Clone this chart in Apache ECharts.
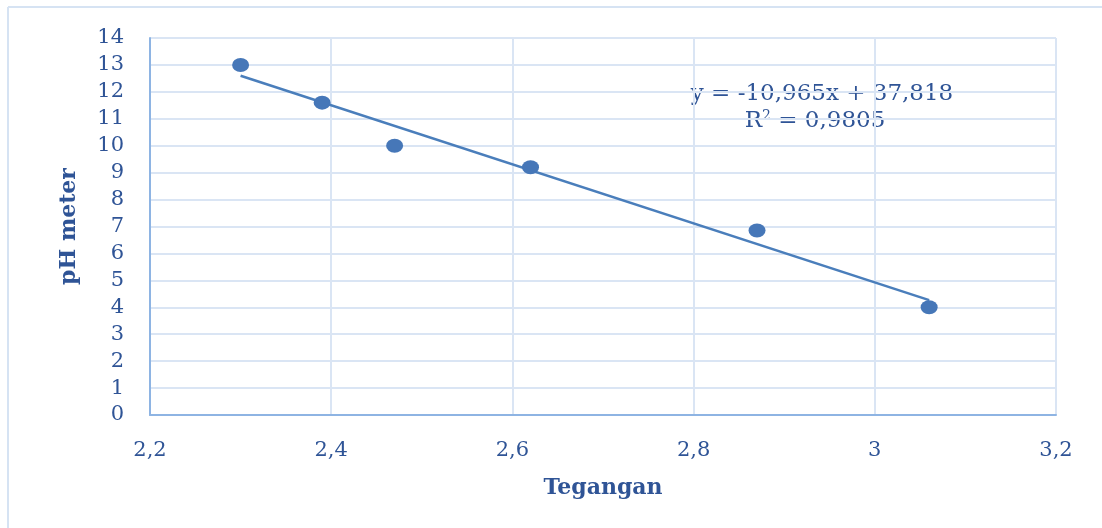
<!DOCTYPE html>
<html>
<head>
<meta charset="utf-8">
<script src="https://cdn.jsdelivr.net/npm/echarts@6/dist/echarts.min.js"></script>
<style>
html,body{margin:0;padding:0;background:#fff;}
#c{width:1102px;height:528px;}
</style>
</head>
<body>
<div id="c"></div>
<script>
const tegangan = [2.30, 2.39, 2.47, 2.62, 2.87, 3.06];
const phMeter = [13.0, 11.6, 10.0, 9.2, 6.85, 4.0];
const trendSlope = -10.965;
const trendIntercept = 37.818;
const trendR2 = '0,9805';
const xTicks = [2.2, 2.4, 2.6, 2.8, 3.0, 3.2];

const points = tegangan.map((x, i) => [x, phMeter[i]]);
const xMinD = Math.min(...tegangan), xMaxD = Math.max(...tegangan);
const trend = [[xMinD, trendSlope * xMinD + trendIntercept], [xMaxD, trendSlope * xMaxD + trendIntercept]];
const fmt = v => String(+v.toFixed(3)).replace('.', ',');

const textColor = '#2f5496';
const font = '"DejaVu Serif", serif';
const chart = echarts.init(document.getElementById('c'));
chart.setOption({
  animation: false,
  backgroundColor: '#fff',
  grid: {left: 150, right: 46, top: 38, bottom: 113},
  xAxis: {
    type: 'value', min: 2.2, max: 3.2, interval: 0.2,
    axisLine: {show: true, lineStyle: {color: '#8eb4e3', width: 2}},
    axisTick: {show: false},
    splitLine: {show: true, lineStyle: {color: '#dae5f4', width: 2}},
    axisLabel: {color: textColor, fontFamily: font, fontSize: 21, margin: 25, formatter: v => fmt(v)},
    name: 'Tegangan', nameLocation: 'middle', nameGap: 62,
    nameTextStyle: {color: textColor, fontFamily: font, fontSize: 22, fontWeight: 'bold'}
  },
  yAxis: {
    type: 'value', min: 0, max: 14, interval: 1,
    axisLine: {show: true, lineStyle: {color: '#8eb4e3', width: 2}},
    axisTick: {show: false},
    splitLine: {show: true, lineStyle: {color: '#dae5f4', width: 2}},
    axisLabel: {color: textColor, fontFamily: font, fontSize: 21, margin: 26},
    name: 'pH meter', nameLocation: 'middle', nameGap: 70, nameRotate: 90,
    nameTextStyle: {color: textColor, fontFamily: font, fontSize: 22, fontWeight: 'bold'}
  },
  series: [
    {
      type: 'line', data: trend, symbol: 'none', z: 2,
      lineStyle: {color: '#4a7ebb', width: 2.5}
    },
    {
      type: 'scatter', data: points, symbol: 'circle', symbolSize: [17, 14], z: 3,
      itemStyle: {color: '#4677b8', opacity: 1}
    }
  ],
  graphic: [
    {type: 'line', shape: {x1: 8, y1: 7, x2: 1102, y2: 7}, style: {stroke: '#d6e3f3', lineWidth: 2}},
    {type: 'line', shape: {x1: 8, y1: 7, x2: 8, y2: 528}, style: {stroke: '#d6e3f3', lineWidth: 2}},
    {type: 'text', x: 822, y: 94, style: {
      text: 'y = ' + fmt(trendSlope) + 'x + ' + fmt(trendIntercept),
      fill: textColor, font: '23px "DejaVu Serif", serif', align: 'center', verticalAlign: 'middle'
    }},
    {type: 'text', x: 815, y: 121, style: {
      rich: {
        n: {fill: textColor, fontFamily: font, fontSize: 23},
        s: {fill: textColor, fontFamily: font, fontSize: 14, verticalAlign: 'top', padding: [0,0,9,0]}
      },
      text: '{n|R}{s|2}{n| = ' + trendR2 + '}', align: 'center', verticalAlign: 'middle'
    }}
  ]
});
</script>
</body>
</html>
